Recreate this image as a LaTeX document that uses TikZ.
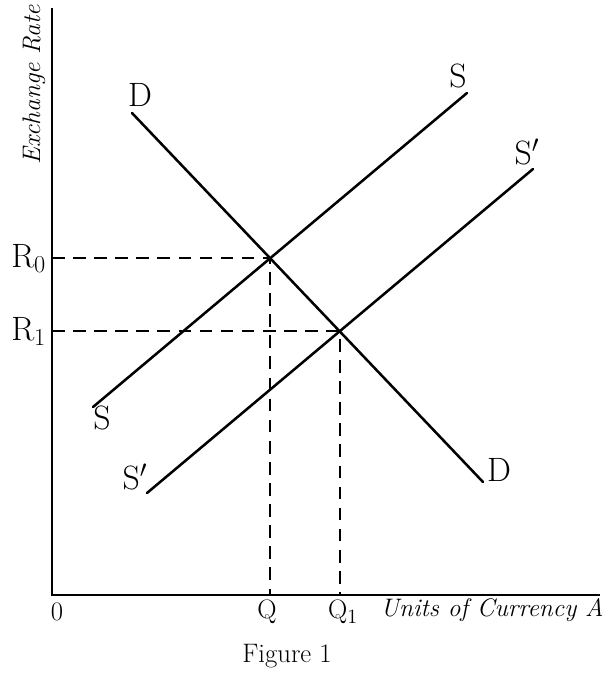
\documentclass[tikz,border=0pt]{standalone}
\usepackage{xcolor}
\usetikzlibrary{positioning, intersections}

\begin{document}
\begin{tikzpicture}[
  x=0.025cm, y=-0.025cm,
  axisl/.style={line width=1.4pt},
  curvel/.style={line width=1.8pt, line cap=round},
  guidel/.style={line width=1.3pt, dash pattern=on 9pt off 6pt},
  lbl/.style={font=\fontsize{24}{26}\selectfont, inner sep=1pt},
  ticklbl/.style={font=\fontsize{19}{21}\selectfont, inner sep=1pt},
  axlbl/.style={font=\fontsize{18}{20}\selectfont\itshape, inner sep=1pt},
]
\useasboundingbox (0,0) rectangle (611,680);

% Axes
\coordinate (O)    at (52,595);
\coordinate (ytop) at (52,8);
\coordinate (xend) at (600,595);
\draw[axisl] (ytop) -- (O) -- (xend);

% Demand and supply curves
\coordinate (d1)  at (132,113);
\coordinate (d2)  at (483,482);
\coordinate (s1)  at (93,407);
\coordinate (s2)  at (467,93);
\coordinate (sp1) at (147,493);
\coordinate (sp2) at (533,169);
\draw[curvel, name path=dd] (d1) -- (d2);
\draw[curvel, name path=ss] (s1) -- (s2);
\draw[curvel, name path=sp] (sp1) -- (sp2);

% Equilibrium points
\path[name intersections={of=dd and ss, by=E0}];
\path[name intersections={of=dd and sp, by=E1}];
\coordinate (r0) at (O |- E0);
\coordinate (r1) at (O |- E1);
\coordinate (q0) at (O -| E0);
\coordinate (q1) at (O -| E1);

% Guide lines
\draw[guidel] (r0) -- (E0) -- (q0);
\draw[guidel] (r1) -- (E1) -- (q1);

% Curve labels
\node[lbl] (dtop)  at (140,95)  {D};
\node[lbl] (dbot)  at (499,470) {D};
\node[lbl] (stop)  at (458,76)  {S};
\node[lbl] (sbot)  at (102,418) {S};
\node[lbl] (sptop) at (527,152) {S$'$};
\node[lbl] (spbot) at (135,477) {S$'$};

% Axis labels
\node[lbl, left=3pt of r0] (rlab0) {R$_0$};
\node[lbl, left=3pt of r1] (rlab1) {R$_1$};
\node[ticklbl] (olab)  at (57,612)  {0};
\node[ticklbl] (qlab0) at (267,612) {Q};
\node[ticklbl] (qlab1) at (343,612) {Q$_1$};
\node[axlbl, anchor=west] (xlab) at (379,610) {Units of Currency A};
\node[axlbl, rotate=90] (ylab) at (34,85) {Exchange Rate};
\node[ticklbl] (cap) at (287,656) {Figure 1};
\end{tikzpicture}
\end{document}
